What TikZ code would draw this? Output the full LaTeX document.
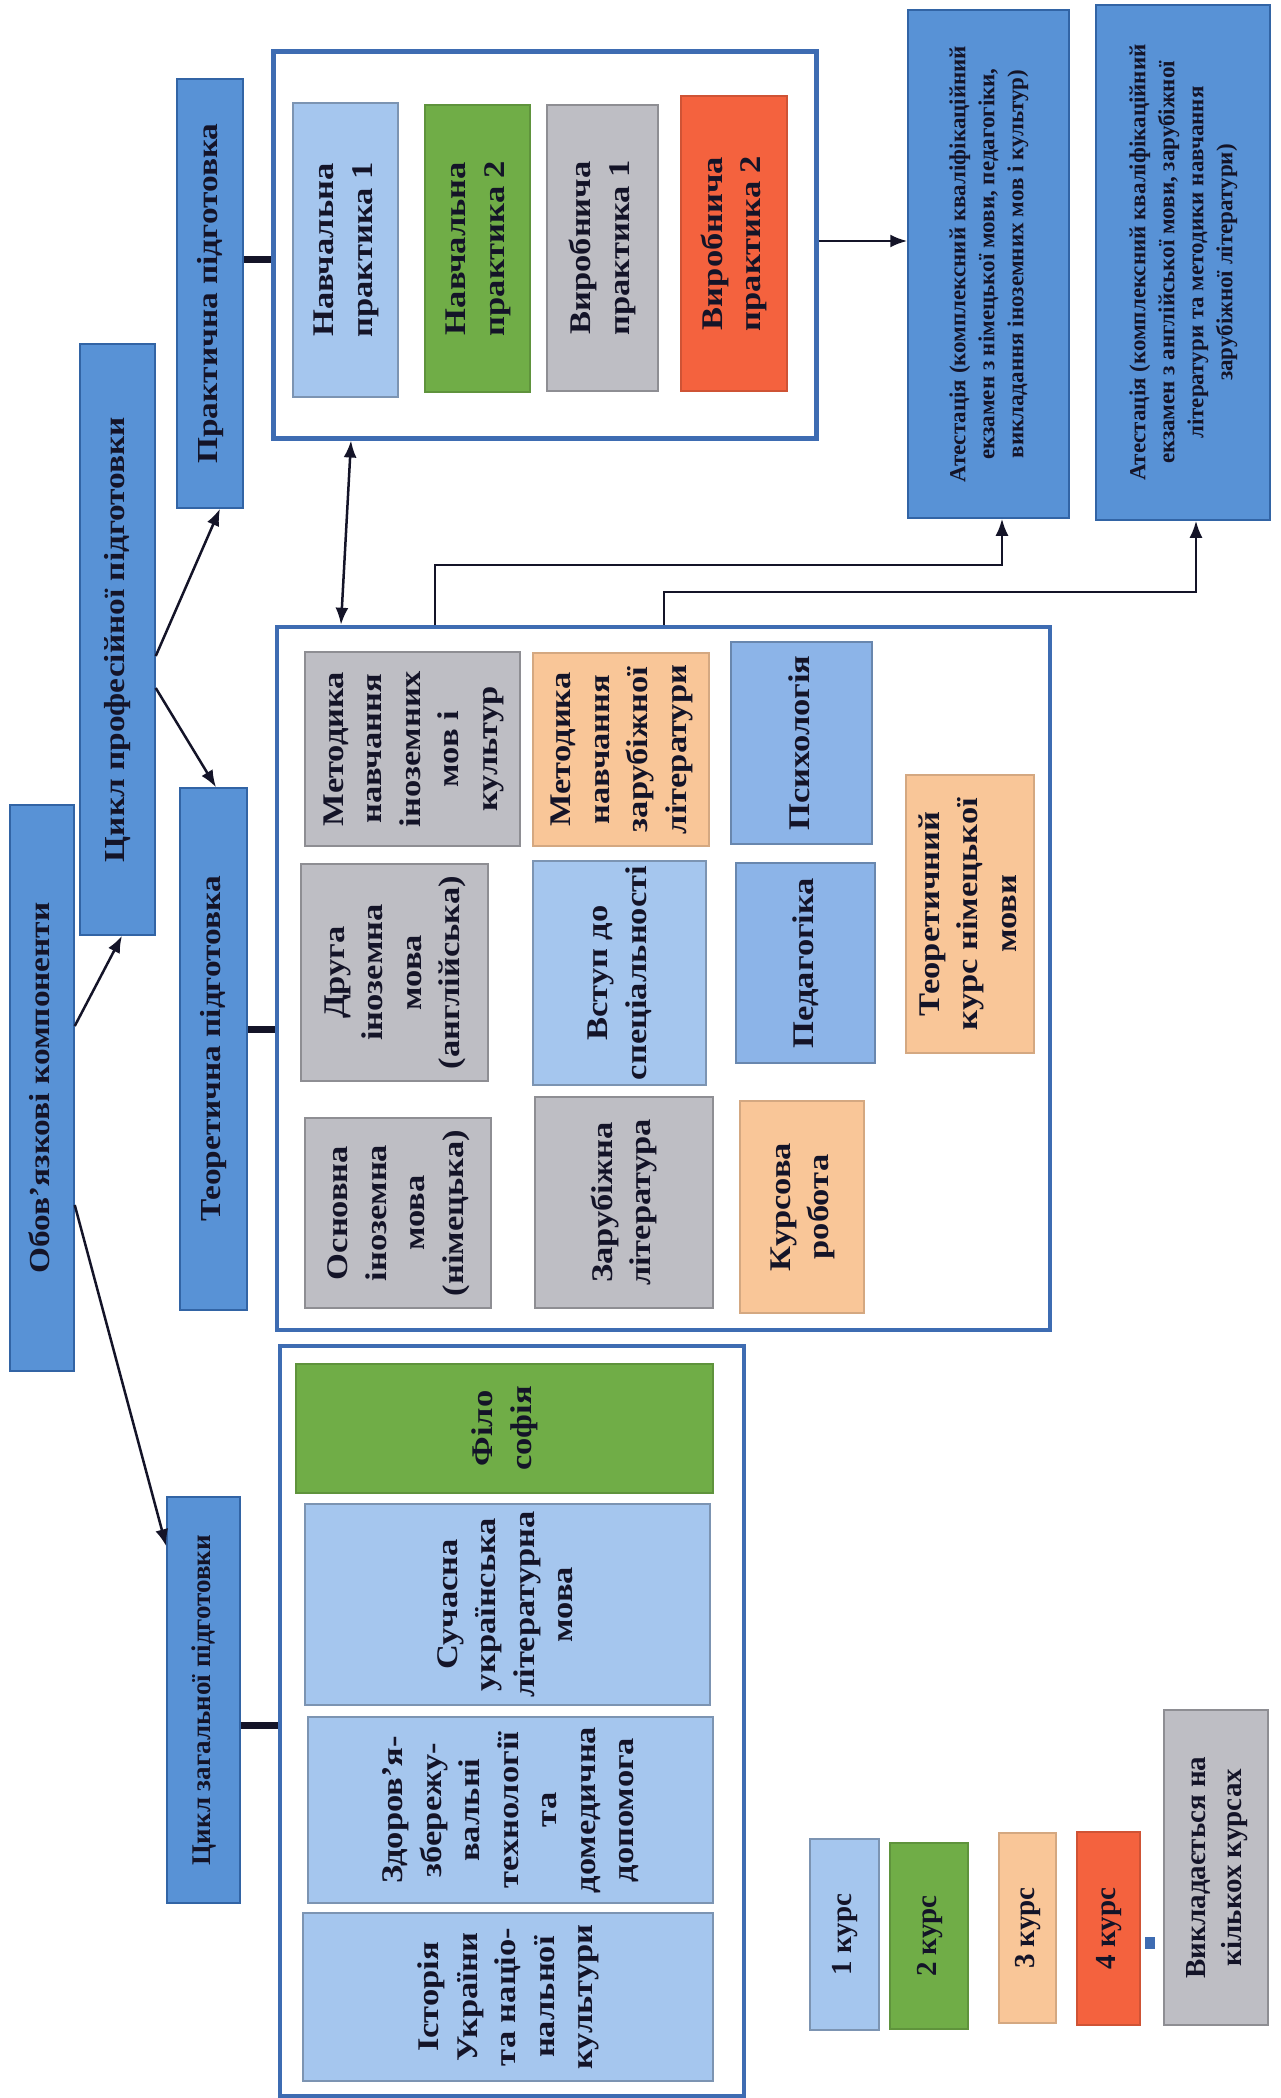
\documentclass[tikz,border=0pt]{standalone}
\usepackage{graphicx}
\usepackage{fontspec}
\setmainfont{Liberation Serif}
\newfontfamily\stretchfam{Liberation Serif}[FakeStretch=1.15]
\usetikzlibrary{arrows.meta}
\newcommand\rtext[1]{\rotatebox{90}{\begin{tabular}{@{}c@{}}#1\end{tabular}}}
\definecolor{mainblue}{RGB}{88,146,214}
\definecolor{bordblue}{RGB}{50,100,165}
\definecolor{contblue}{RGB}{62,108,178}
\definecolor{lightblue}{RGB}{165,198,238}
\definecolor{midblue}{RGB}{140,180,232}
\definecolor{grn}{RGB}{112,173,71}
\definecolor{gry}{RGB}{190,190,196}
\definecolor{peach}{RGB}{249,198,152}
\definecolor{redor}{RGB}{244,98,62}
\definecolor{txt}{RGB}{20,20,40}
\tikzset{
  mainbox/.style={draw=bordblue, line width=1.5pt, fill=mainblue, inner sep=0pt, text=txt, font=\stretchfam\bfseries\fontsize{29}{35}\selectfont},
  atbox/.style={mainbox, font=\bfseries\fontsize{23}{29}\selectfont},
  cbox/.style={inner sep=0pt, line width=1.2pt, text=txt, font=\stretchfam\bfseries\fontsize{30}{38.5}\selectfont},
  lbbox/.style={cbox, fill=lightblue, draw=lightblue!75!black},
  mbbox/.style={cbox, fill=midblue, draw=midblue!75!black},
  gnbox/.style={cbox, fill=grn, draw=grn!85!black},
  gybox/.style={cbox, fill=gry, draw=gry!75!black},
  pcbox/.style={cbox, fill=peach, draw=peach!85!black},
  rdbox/.style={cbox, fill=redor, draw=redor!85!black},
  legbox/.style={font=\bfseries\fontsize{29}{36}\selectfont},
  container/.style={draw=contblue, line width=5pt, fill=white, inner sep=0pt},
  conn/.style={line width=2.5pt, draw=txt, -{Latex[length=17pt,width=13pt]}},
  dconn/.style={line width=2.5pt, draw=txt, {Latex[length=17pt,width=13pt]}-{Latex[length=17pt,width=13pt]}},
  link/.style={line width=7pt, draw=txt}
}
\begin{document}
\begin{tikzpicture}[x=1pt,y=1pt]
\fill[white] (0,0) rectangle (1281,-2098);
\useasboundingbox (0,0) rectangle (1281,-2098);

% top-level boxes
\node[mainbox, minimum width=64pt, minimum height=566pt] (ob) at (42,-1088) {\rtext{Обов’язкові компоненти}};
\node[mainbox, minimum width=75pt, minimum height=591pt] (cp) at (117.5,-639.5) {\rtext{Цикл професійної підготовки}};
\node[mainbox, minimum width=66pt, minimum height=429pt] (pp) at (210,-293.5) {\rtext{Практична підготовка}};
\node[mainbox, minimum width=67pt, minimum height=522pt] (tp) at (213.5,-1049) {\rtext{Теоретична підготовка}};
\node[mainbox, font=\bfseries\fontsize{27}{33}\selectfont, minimum width=73pt, minimum height=406pt] (cz) at (203.5,-1700) {\rtext{Цикл загальної підготовки}};

% practical container
\node[container, minimum width=543pt, minimum height=386pt] (pc) at (544.5,-245) {};
\node[lbbox, minimum width=105pt, minimum height=294pt] (n1) at (345.5,-250) {\rtext{Навчальна\\практика 1}};
\node[gnbox, minimum width=105pt, minimum height=287pt] (n2) at (477.5,-248.5) {\rtext{Навчальна\\практика 2}};
\node[gybox, minimum width=111pt, minimum height=286pt] (v1) at (602.5,-248) {\rtext{Виробнича\\практика 1}};
\node[rdbox, minimum width=106pt, minimum height=295pt] (v2) at (734,-243.5) {\rtext{Виробнича\\практика 2}};

% attestation
\node[atbox, minimum width=161pt, minimum height=508pt] (at1) at (988.5,-264) {\rtext{Атестація (комплексний кваліфікаційний\\екзамен з німецької мови, педагогіки,\\викладання іноземних мов і культур)}};
\node[atbox, minimum width=174pt, minimum height=515pt] (at2) at (1183,-262.5) {\rtext{Атестація (комплексний кваліфікаційний\\екзамен з англійської мови, зарубіжної\\літератури та методики навчання\\зарубіжної літератури)}};

% theoretical container
\node[container, line width=4.5pt, minimum width=773pt, minimum height=703pt] (tc) at (663.5,-978.5) {};
\node[gybox, minimum width=215pt, minimum height=194pt] (m1) at (412.5,-749) {\rtext{Методика\\навчання\\іноземних\\мов і\\культур}};
\node[gybox, minimum width=187pt, minimum height=217pt] (dr) at (394.5,-972.5) {\rtext{Друга\\іноземна\\мова\\(англійська)}};
\node[gybox, minimum width=186pt, minimum height=190pt] (os) at (398,-1213) {\rtext{Основна\\іноземна\\мова\\(німецька)}};
\node[pcbox, minimum width=176pt, minimum height=193pt] (mz) at (621,-749.5) {\rtext{Методика\\навчання\\зарубіжної\\літератури}};
\node[lbbox, minimum width=173pt, minimum height=224pt] (vs) at (619.5,-973) {\rtext{Вступ до\\спеціальності}};
\node[gybox, minimum width=178pt, minimum height=211pt] (zl) at (624,-1202.5) {\rtext{Зарубіжна\\література}};
\node[mbbox, minimum width=141pt, minimum height=202pt] (ps) at (801.5,-743) {\rtext{Психологія}};
\node[mbbox, minimum width=139pt, minimum height=200pt] (pd) at (805.5,-963) {\rtext{Педагогіка}};
\node[pcbox, minimum width=124pt, minimum height=212pt] (kr) at (802,-1207) {\rtext{Курсова\\робота}};
\node[pcbox, minimum width=128pt, minimum height=278pt] (tk) at (970,-914) {\rtext{Теоретичний\\курс німецької\\мови}};

% general container
\node[container, line width=4.5pt, minimum width=464pt, minimum height=750pt] (gc) at (512,-1721) {};
\node[gnbox, minimum width=417pt, minimum height=129pt] (fs) at (504.5,-1428.5) {\rtext{Філо\\софія}};
\node[lbbox, minimum width=405pt, minimum height=201pt] (su) at (507.5,-1604.5) {\rtext{Сучасна\\українська\\літературна\\мова}};
\node[lbbox, minimum width=405pt, minimum height=186pt] (zd) at (510.5,-1810) {\rtext{Здоров’я-\\збережу-\\вальні\\технології\\та\\домедична\\допомога}};
\node[lbbox, minimum width=410pt, minimum height=168pt] (is) at (508,-1997) {\rtext{Історія\\України\\та націо-\\нальної\\культури}};

% legend
\node[lbbox, legbox, minimum width=69pt, minimum height=191pt] (k1) at (844.5,-1934.5) {\rtext{1 курс}};
\node[gnbox, legbox, minimum width=78pt, minimum height=186pt] (k2) at (929,-1936) {\rtext{2 курс}};
\node[pcbox, legbox, minimum width=57pt, minimum height=190pt] (k3) at (1027.5,-1928) {\rtext{3 курс}};
\node[rdbox, legbox, minimum width=63pt, minimum height=193pt] (k4) at (1108.5,-1928.5) {\rtext{4 курс}};
\node[fill=contblue, inner sep=0pt, minimum width=10pt, minimum height=12pt] (dot) at (1150,-1942.5) {};
\node[gybox, legbox, minimum width=104pt, minimum height=315pt] (vk) at (1216,-1867.5) {\rtext{Викладається на\\кількох курсах}};

% connectors
\draw[conn] ([yshift=62pt]ob.east) -- ([xshift=4.5pt]cp.south);
\draw[conn] ([yshift=-117pt]ob.east) -- ([yshift=-50pt]cz.north west);
\draw[conn] ([yshift=-16.5pt]cp.east) -- ([xshift=10pt]pp.south);
\draw[conn] ([yshift=-48.5pt]cp.east) -- ([xshift=2.5pt]tp.north);

\coordinate (ppL) at ([yshift=34.5pt]pp.east);
\draw[link] (ppL) -- (ppL -| pc.west);
\coordinate (tpL) at ([yshift=20pt]tp.east);
\draw[link] (tpL) -- (tpL -| tc.west);
\coordinate (czL) at ([yshift=-25pt]cz.east);
\draw[link] (czL) -- (czL -| gc.west);

\coordinate (pcR) at ([yshift=4pt]pc.east);
\draw[conn] (pcR) -- (pcR -| at1.west);

\draw[dconn] ([xshift=-193.5pt]pc.south) -- ([xshift=-322.5pt]tc.north);

\coordinate (tA) at ([xshift=-228.5pt]tc.north);
\coordinate (tB) at ([xshift=13.5pt]at1.south);
\draw[conn] (tA) -- ++(0,60) -| (tB);
\coordinate (tA2) at ([xshift=0.5pt]tc.north);
\coordinate (tB2) at ([xshift=13pt]at2.south);
\draw[conn] (tA2) -- ++(0,33) -| (tB2);
\end{tikzpicture}
\end{document}
